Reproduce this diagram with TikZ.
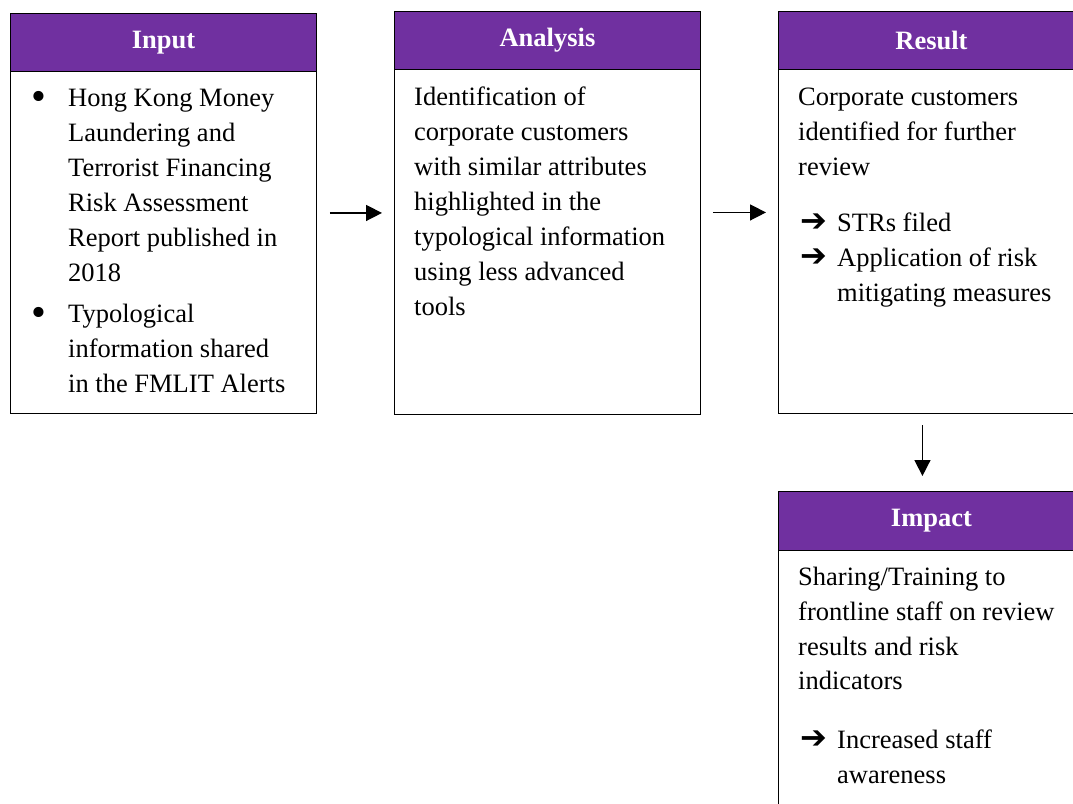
\documentclass[tikz,border=0pt]{standalone}
\usepackage{fontspec}
\setmainfont{Liberation Serif}
\newfontfamily\arrowfont{DejaVu Sans}
\usetikzlibrary{arrows.meta}
\definecolor{hdrpurple}{HTML}{7030A0}
\newcommand\bodyfont{\fontsize{26.5}{34.9}\selectfont}
\newcommand\arrglyph{{\arrowfont\fontsize{32}{36}\selectfont ➔}}
\newcommand\bulglyph{\raisebox{-4pt}{\scalebox{1.6}{\textbullet}}}
\begin{document}
\begin{tikzpicture}[x=1pt,y=-1pt,
  boxbody/.style={draw=black, line width=0.9pt, fill=white, inner sep=0pt, anchor=north west, minimum width=306pt},
  hdr/.style={draw=black, line width=0.9pt, fill=hdrpurple, text=white, font=\bodyfont\bfseries,
    anchor=north west, minimum width=306pt, minimum height=58.5pt, inner sep=0pt},
  txt/.style={anchor=north west, inner sep=0pt, align=left, font=\bodyfont},
  glyph/.style={anchor=base west, inner sep=0pt, font=\bodyfont},
  flow/.style={line width=1.5pt, -{Triangle[length=16pt,width=16pt]}}]
\useasboundingbox (0,0) rectangle (1073,803);
\clip (0,0) rectangle (1073,803);

% boxes
\node[boxbody, minimum height=400pt] (input) at (10,12.5) {};
\node[hdr] (inputh) at (10,12.5) {Input};
\node[boxbody, minimum height=403pt] (analysis) at (394,10.5) {};
\node[hdr] (analysish) at (394,10.5) {Analysis};
\node[boxbody, minimum height=402pt] (result) at (778,10.5) {};
\node[hdr] (resulth) at (778,10.5) {Result};
\node[boxbody, minimum height=360pt] (impact) at (778,491) {};
\node[hdr] (impacth) at (778,491) {Impact};

% Input text
\node[glyph] (b1) at (31,106.7) {\bulglyph};
\node[txt] (in1) at (68,82.3) {\strut Hong Kong Money\\Laundering and\\Terrorist Financing\\Risk Assessment\\Report published in\\2018};
\node[glyph] (b2) at (31,322.5) {\bulglyph};
\node[txt] (in2) at (68,298.1) {\strut Typological\\information shared\\in the FMLIT Alerts};

% Analysis text
\node[txt] (an1) at (414,81.1) {\strut Identification of\\corporate customers\\with similar attributes\\highlighted in the\\typological information\\using less advanced\\tools};

% Result text
\node[txt] (re1) at (798,81.1) {\strut Corporate customers\\identified for further\\review};
\node[glyph] (r1) at (800,231.7) {\arrglyph};
\node[txt] (re2) at (837,207.3) {\strut STRs filed};
\node[glyph] (r2) at (800,266.7) {\arrglyph};
\node[txt] (re3) at (837,242.3) {\strut Application of risk\\mitigating measures};

% Impact text
\node[txt] (im1) at (798,560.6) {\strut Sharing/Training to\\frontline staff on review\\results and risk\\indicators};
\node[glyph] (i1) at (800,748) {\arrglyph};
\node[txt] (im2) at (837,723.6) {\strut Increased staff\\awareness};

% connectors
\draw[flow, shorten <=13pt, shorten >=12pt] (input.east) -- (analysis.west |- input.east);
\draw[flow, shorten <=12pt, shorten >=12pt] (analysis.east) -- (result.west |- analysis.east);
\draw[flow, shorten <=12pt, shorten >=15pt] ([xshift=-9pt]result.south) -- ([xshift=-9pt]impact.north);
\end{tikzpicture}
\end{document}
